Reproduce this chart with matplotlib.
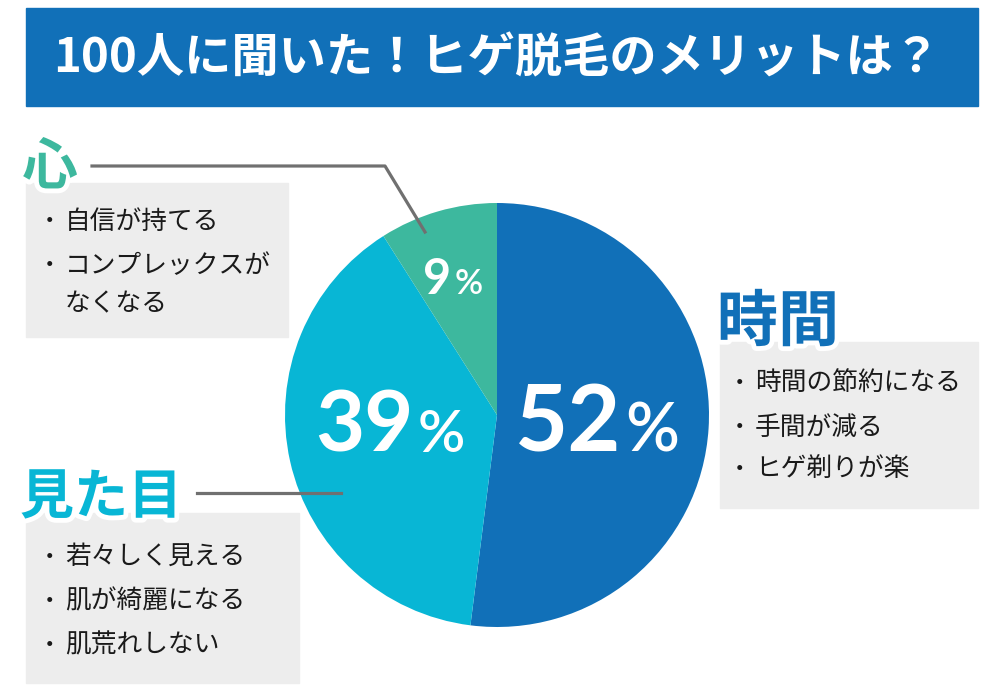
import matplotlib
matplotlib.use("Agg")
import matplotlib.pyplot as plt
import matplotlib.patheffects as pe
from matplotlib.patches import Rectangle

plt.rcParams['font.family'] = ['Noto Sans CJK JP', 'DejaVu Sans']

# data
title = "100人に聞いた！ヒゲ脱毛のメリットは？"
categories = ["時間", "見た目", "心"]
values = [52, 39, 9]
colors = ["#1170b8", "#08b6d5", "#3db89e"]
items_time = ["時間の節約になる", "手間が減る", "ヒゲ剃りが楽"]
items_look = ["若々しく見える", "肌が綺麗になる", "肌荒れしない"]
items_mind = ["自信が持てる", "コンプレックスが", "なくなる"]

W, H = 1000, 700
fig = plt.figure(figsize=(W / 100, H / 100), dpi=100)

# pie (center ~ (497, 415), radius ~212 px)
cx, cy, r = 497, 415, 212
ax_pie = fig.add_axes([(cx - r) / W, 1 - (cy + r) / H, 2 * r / W, 2 * r / H])
ax_pie.pie(values, colors=colors, startangle=90, counterclock=False,
           wedgeprops=dict(linewidth=0))
ax_pie.set_xlim(-1, 1)
ax_pie.set_ylim(-1, 1)
ax_pie.set_aspect('equal')
ax_pie.axis('off')

# overlay in pixel coordinates
ax = fig.add_axes([0, 0, 1, 1], facecolor='none')
ax.set_xlim(0, W)
ax.set_ylim(H, 0)
ax.axis('off')

# title banner
ax.add_patch(Rectangle((26, 8), 952, 98, color="#1170b8", zorder=1))
ax.text(497, 58, title, color='white', fontsize=34, fontweight='bold',
        ha='center', va='center', zorder=2)

# percentage labels
num_font = ['Lato', 'DejaVu Sans']
pct_spec = [  # x split, baseline, digit size, % size
    (621, 452, 66, 48),
    (414, 452, 61, 42),
    (451, 294, 35, 25),
]
for v, (xs, yb, fs1, fs2) in zip(values, pct_spec):
    ax.text(xs, yb, str(v), color='white', fontsize=fs1, fontweight='bold',
            family=num_font, ha='right', va='baseline', zorder=3)
    ax.text(xs + 4, yb, "%", color='white', fontsize=fs2, fontweight='semibold',
            family=num_font, ha='left', va='baseline', zorder=3)

box_color = "#ededed"
line_color = "#707070"
stroke = [pe.withStroke(linewidth=7, foreground='white')]


def item_block(items, x0, ys, bullets):
    for t, y, b in zip(items, ys, bullets):
        if b:
            ax.text(x0 - 17, y, "・", fontsize=17, color='#1a1a1a',
                    ha='left', va='center', zorder=4)
        ax.text(x0 + 10, y, t, fontsize=18.5, color='#1a1a1a',
                ha='left', va='center', zorder=4)


# 時間
ax.add_patch(Rectangle((720, 342), 258, 166, color=box_color, zorder=2))
ax.text(778, 323, categories[0], color=colors[0], fontsize=44, fontweight='bold',
        ha='center', va='center', path_effects=stroke, zorder=5)
item_block(items_time, 745, [384, 428, 469], [True, True, True])

# 見た目
ax.add_patch(Rectangle((26, 513), 273, 170, color=box_color, zorder=2))
ax.plot([197, 341], [493, 493], color=line_color, lw=2.3, zorder=3)
ax.text(101, 498, categories[1], color=colors[1], fontsize=39, fontweight='bold',
        ha='center', va='center', path_effects=stroke, zorder=5)
item_block(items_look, 55, [557, 601, 645], [True, True, True])

# 心
ax.add_patch(Rectangle((26, 183), 262, 154, color=box_color, zorder=2))
ax.plot([92, 385, 425], [166, 166, 232], color=line_color, lw=2.3, zorder=3)
ax.text(50, 168, categories[2], color=colors[2], fontsize=40, fontweight='bold',
        ha='center', va='center', path_effects=stroke, zorder=5)
item_block(items_mind, 55, [222, 266, 304], [True, True, False])

fig.savefig("out.png", dpi=100)
